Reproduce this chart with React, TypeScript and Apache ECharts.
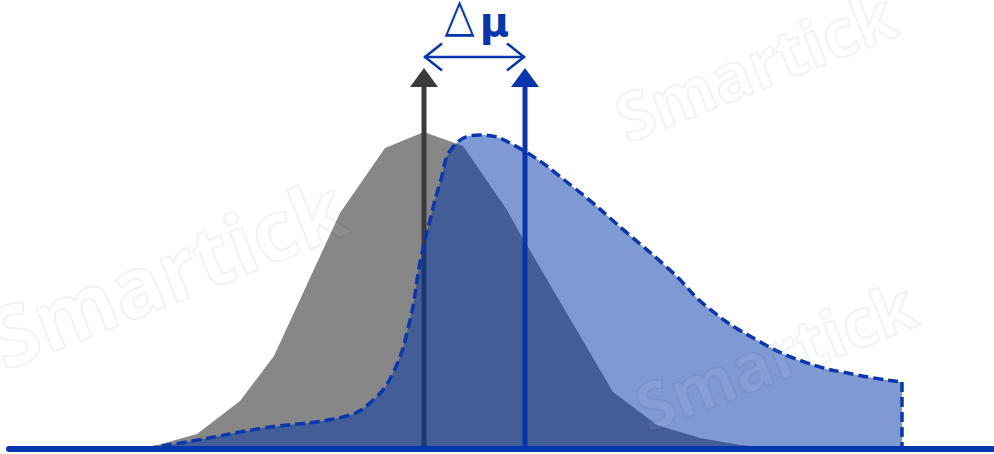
import React, { useEffect, useRef } from "react";
import * as echarts from "echarts";

// Gray distribution (before)
const grayX = [14.5, 19.7, 24, 27.4, 34, 38.5, 42.4, 46.3, 50.7, 52.2, 61.3, 65.7, 70, 74, 78];
const grayY = [0, 0.036, 0.119, 0.231, 0.589, 0.751, 0.791, 0.756, 0.596, 0.529, 0.141, 0.059, 0.026, 0.009, 0];

// Blue distribution (after)
const blueX = [14.7, 19.7, 26.3, 34.3, 37, 39.3, 41, 42, 43, 44, 45.3, 48, 51.7, 57.3, 62.7, 67.3, 70.7, 75.7, 80.7, 85.7, 90.2];
const blueY = [0, 0.021, 0.051, 0.079, 0.114, 0.189, 0.321, 0.464, 0.571, 0.664, 0.754, 0.784, 0.754, 0.654, 0.539, 0.439, 0.354, 0.271, 0.214, 0.184, 0.166];

// Means and annotation heights
const means = [42.4, 52.5];
const arrowTop = 0.951;
const deltaLevel = 0.979;
const deltaLabel = ["△", "μ"];
const watermark = "Smartick";

const BLUE = "#0536ad";

export default function App() {
  const ref = useRef<HTMLDivElement>(null);

  useEffect(() => {
    if (!ref.current) return;
    const chart = echarts.init(ref.current, null, { renderer: "svg" });

    const arrowItem = (params: any, api: any) => {
      const x = api.value(0);
      const top = api.value(1);
      const base = api.coord([x, 0]);
      const tip = api.coord([x, top]);
      const color = api.visual("color");
      return {
        type: "group",
        children: [
          {
            type: "line",
            shape: { x1: base[0], y1: base[1], x2: tip[0], y2: tip[1] + 12 },
            style: { stroke: color, lineWidth: 5 },
          },
          {
            type: "polygon",
            shape: {
              points: [
                [tip[0] - 14, tip[1] + 19],
                [tip[0], tip[1]],
                [tip[0] + 14, tip[1] + 19],
              ],
            },
            style: { fill: color },
          },
        ],
      };
    };

    const deltaItem = (params: any, api: any) => {
      const a = api.coord([api.value(0), api.value(2)]);
      const b = api.coord([api.value(1), api.value(2)]);
      const mid = (a[0] + b[0]) / 2;
      const st = { stroke: BLUE, lineWidth: 2.5, fill: "none", lineJoin: "miter" };
      return {
        type: "group",
        children: [
          { type: "line", shape: { x1: a[0], y1: a[1], x2: b[0], y2: b[1] }, style: st },
          {
            type: "polyline",
            shape: { points: [[a[0] + 18, a[1] - 13.5], [a[0] + 1, a[1]], [a[0] + 18, a[1] + 13.5]] },
            style: st,
          },
          {
            type: "polyline",
            shape: { points: [[b[0] - 18, b[1] - 13.5], [b[0] - 1, b[1]], [b[0] - 18, b[1] + 13.5]] },
            style: st,
          },
          {
            type: "text",
            x: mid - 15,
            y: a[1] - 42,
            scaleY: 1.2,
            style: {
              text: deltaLabel[0],
              fill: BLUE,
              fontSize: 39,
              fontFamily: "DejaVu Sans",
              align: "center",
              verticalAlign: "middle",
            },
          },
          {
            type: "text",
            x: mid + 20,
            y: a[1] - 35,
            style: {
              text: deltaLabel[1],
              fill: BLUE,
              fontSize: 40,
              fontWeight: "bold",
              fontFamily: "DejaVu Sans",
              align: "center",
              verticalAlign: "middle",
            },
          },
        ],
      };
    };

    const wm = (x: number, y: number, size: number) => ({
      type: "text",
      x,
      y,
      rotation: 0.38,
      z: 100,
      silent: true,
      style: {
        text: watermark,
        fill: "rgba(255,255,255,0.05)",
        stroke: "rgba(0,0,0,0.05)",
        lineWidth: 2,
        fontSize: size,
        fontWeight: "bold",
        fontFamily: "Open Sans",
        verticalAlign: "bottom",
      },
    });

    const option: any = {
      animation: false,
      backgroundColor: "#ffffff",
      graphic: [wm(8, 380, 84), wm(630, 150, 66), wm(650, 440, 66)],
      grid: { left: 9, right: 0, top: 8.5, bottom: 5.5, containLabel: false },
      xAxis: {
        type: "value",
        min: 0.9,
        max: 99.4,
        z: 10,
        axisLine: { show: true, onZero: false, lineStyle: { color: BLUE, width: 6 } },
        axisTick: { show: false },
        axisLabel: { show: false },
        splitLine: { show: false },
      },
      yAxis: {
        type: "value",
        min: 0,
        max: 1.1,
        axisLine: { show: false },
        axisTick: { show: false },
        axisLabel: { show: false },
        splitLine: { show: false },
      },
      series: [
        {
          name: "before",
          type: "line",
          z: 2,
          symbol: "none",
          smooth: false,
          data: grayX.map((x, i) => [x, grayY[i]]),
          lineStyle: { width: 0 },
          areaStyle: { color: "#878787", opacity: 1 },
        },
        {
          name: "beforeMean",
          type: "custom",
          z: 3,
          renderItem: arrowItem,
          itemStyle: { color: "#3b3b3b" },
          data: [[means[0], arrowTop]],
        },
        {
          name: "after",
          type: "line",
          z: 4,
          symbol: "none",
          smooth: 0.45,
          data: blueX.map((x, i) => [x, blueY[i]]),
          lineStyle: { color: "#0a36b0", width: 3.5, type: [10, 5] },
          areaStyle: { color: "rgba(0,51,167,0.5)", opacity: 1 },
        },
        {
          name: "afterEdge",
          type: "line",
          z: 4,
          symbol: "none",
          data: [
            [blueX[blueX.length - 1], blueY[blueY.length - 1]],
            [blueX[blueX.length - 1], 0],
          ],
          lineStyle: { color: "#0a36b0", width: 3.5, type: [10, 5] },
        },
        {
          name: "afterMean",
          type: "custom",
          z: 5,
          renderItem: arrowItem,
          itemStyle: { color: BLUE },
          data: [[means[1], arrowTop]],
        },
        {
          name: "delta",
          type: "custom",
          z: 6,
          renderItem: deltaItem,
          data: [[means[0], means[1], deltaLevel]],
        },
      ],
    };

    chart.setOption(option);
    return () => chart.dispose();
  }, []);

  return (
    <div
      ref={ref}
      style={{ position: "absolute", left: 0, top: 0, width: 994, height: 454 }}
    />
  );
}
